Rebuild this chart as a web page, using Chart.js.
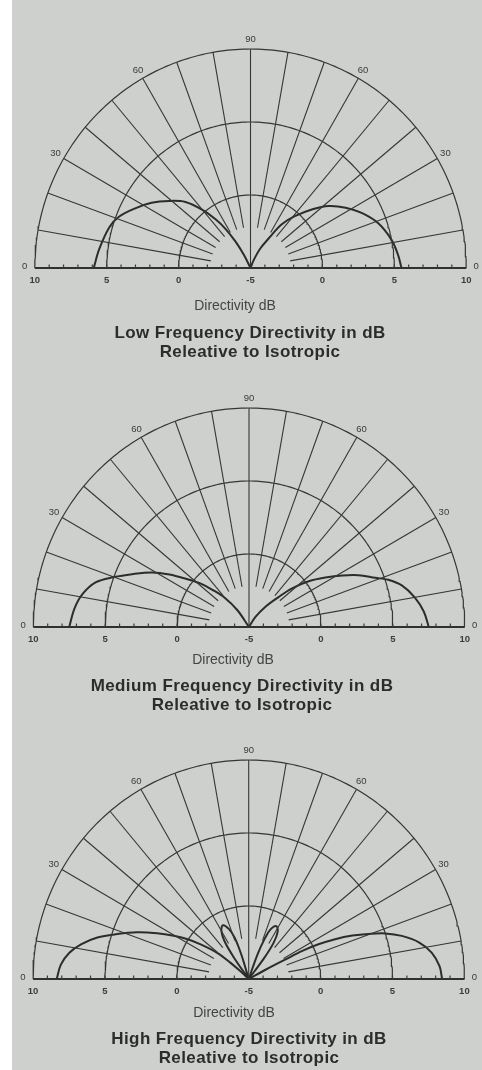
<!DOCTYPE html>
<html><head><meta charset="utf-8">
<script src="https://cdn.jsdelivr.net/npm/chart.js@4.4.1/dist/chart.umd.min.js"></script>
<style>
html,body{margin:0;padding:0;}
body{width:482px;height:1070px;background:#cdd0cd;position:relative;overflow:hidden;font-family:"Liberation Sans",Arial,Helvetica,sans-serif;}
#strip{position:absolute;left:0;top:0;width:12px;height:1070px;background:#fff;}
canvas{position:absolute;left:0;}
.axt{position:absolute;width:482px;text-align:center;color:#444;font-size:14px;line-height:16px;}
.ttl{position:absolute;width:482px;text-align:center;color:#2c2c2c;font-size:17px;font-weight:bold;line-height:19px;letter-spacing:0.4px;}
</style></head>
<body>
<div id="strip"></div>
<canvas id="c1" width="482" height="300" style="top:0px"></canvas>
<canvas id="c2" width="482" height="300" style="top:358.7px"></canvas>
<canvas id="c3" width="482" height="300" style="top:711.3px"></canvas>
<div class="axt" style="top:297px;left:-6px">Directivity dB</div>
<div class="ttl" style="top:322.5px;left:9px">Low Frequency Directivity in dB<br>Releative to Isotropic</div>
<div class="axt" style="top:651px;left:-8px">Directivity dB</div>
<div class="ttl" style="top:675.5px;left:1px">Medium Frequency Directivity in dB<br>Releative to Isotropic</div>
<div class="axt" style="top:1004px;left:-7px">Directivity dB</div>
<div class="ttl" style="top:1028.5px;left:8px">High Frequency Directivity in dB<br>Releative to Isotropic</div>
<script>
// ---- grid / label data ----
const ringDb = [0, 5, 10];
const spokeAngles = [10, 20, 30, 40, 50, 60, 70, 80, 90, 100, 110, 120, 130, 140, 150, 160, 170];
const spokeInnerDb = -2.2;
const angleLabelAngles = [180, 150, 120, 90, 60, 30, 0];
const angleLabelTexts = ['0', '30', '60', '90', '60', '30', '0'];
const dbTickSides = [-1, -1, -1, 0, 1, 1, 1];
const dbTickValues = [10, 5, 0, -5, 0, 5, 10];
const dbMin = -5;

// ---- Low frequency (angles in degrees from the baseline on each side) ----
const lowLeftAngles = [0, 7, 16, 21, 27, 33, 39, 45, 50, 54, 57, 60, 63, 66];
const lowLeftDb = [5.9, 5.6, 5.2, 4.8, 4.0, 3.2, 2.3, 1.4, 0.2, -0.9, -1.8, -2.9, -4.0, -5];
const lowRightAngles = [0, 5, 11, 19, 26, 32, 38, 43, 49, 54, 58, 63, 67.5, 70];
const lowRightDb = [5.5, 5.3, 5.0, 4.4, 3.6, 2.8, 1.9, 0.9, -0.3, -1.3, -2.6, -3.5, -4.4, -5];

// ---- Medium frequency ----
const medLeftAngles = [0, 6, 11, 16, 20, 24, 29, 33, 37, 41, 45, 50, 55, 58];
const medLeftDb = [7.5, 7.2, 6.8, 6.1, 5.0, 3.9, 2.7, 1.6, 0.5, -0.4, -1.4, -2.4, -3.6, -5];
const medRightAngles = [0, 5, 10, 15, 18.5, 21, 25, 28.5, 32.5, 37, 41.5, 45, 50.5, 57, 60];
const medRightDb = [7.5, 7.2, 6.7, 6.0, 5.2, 4.4, 3.4, 2.4, 1.3, 0.2, -1.0, -2.1, -3.2, -4.2, -5];

// ---- High frequency ----
const highLeftAngles = [0, 4.3, 8.2, 11.5, 15.1, 18.6, 22.4, 26.2, 29.6, 32.5, 35.4, 39.4, 41.2, 42.5, 44];
const highLeftDb = [8.35, 8.1, 7.6, 6.9, 5.9, 4.65, 3.4, 2.1, 1.0, 0.1, -0.9, -2.2, -3.3, -4.2, -5];
const highLeftSideAngles = [53, 55, 57, 60, 64, 68, 71, 73, 75];
const highLeftSideDb = [-5, -3.2, -1.9, -1.2, -0.9, -1.3, -2.0, -3.3, -5];
const highRightAngles = [0, 3.8, 8.1, 12, 15.5, 18.2, 20.3, 22.4, 24.4, 26.1, 27.3, 27.7, 28.5, 30];
const highRightDb = [8.45, 8.3, 7.85, 7.1, 6.05, 5.0, 3.9, 2.8, 1.6, 0.4, -0.8, -2.1, -3.6, -5];
const highRightSideAngles = [51, 53, 55, 58, 62, 66, 68, 70, 72];
const highRightSideDb = [-5, -3.3, -2.0, -1.2, -0.9, -1.3, -2.0, -3.2, -5];

const LINE = '#353735';

function toXY(thetaDeg, db) {
  const r = Math.max(0, db - dbMin);
  const t = thetaDeg * Math.PI / 180;
  return {x: r * Math.cos(t), y: r * Math.sin(t)};
}

function gridDatasets() {
  const ds = [];
  ringDb.forEach(db => {
    const pts = [];
    for (let a = 0; a <= 180; a += 1) pts.push(toXY(a, db));
    ds.push({data: pts, borderColor: LINE, borderWidth: 1.2, tension: 0});
  });
  spokeAngles.forEach(a => {
    const inner = a === 90 ? dbMin : spokeInnerDb;
    ds.push({data: [toXY(a, inner), toXY(a, ringDb[ringDb.length - 1])], borderColor: LINE, borderWidth: 1.1, tension: 0});
  });
  ds.push({data: [toXY(180, 10), toXY(0, 10)], borderColor: '#2f312f', borderWidth: 1.8, tension: 0});
  return ds;
}

function lobe(angles, dbs, side) {
  return {
    data: angles.map((a, i) => toXY(side < 0 ? 180 - a : a, dbs[i])),
    borderColor: '#2b2d2b', borderWidth: 2, tension: 0.35
  };
}

const polarLabels = {
  id: 'polarLabels',
  afterDatasetsDraw(chart) {
    const {ctx, scales: {x, y}} = chart;
    const y0 = y.getPixelForValue(0);
    ctx.save();
    // minor ticks every 1 dB along the baseline
    ctx.strokeStyle = '#3a3c3a';
    ctx.lineWidth = 1.2;
    for (let v = -14; v <= 14; v++) {
      if (v === 0) continue;
      const px = x.getPixelForValue(v);
      ctx.beginPath(); ctx.moveTo(px, y0); ctx.lineTo(px, y0 - 3.5); ctx.stroke();
    }
    ctx.fillStyle = '#3a3a3a';
    ctx.font = '9.5px "Liberation Sans", Arial, sans-serif';
    ctx.textAlign = 'center';
    ctx.textBaseline = 'middle';
    angleLabelAngles.forEach((a, i) => {
      const edge = (a === 0 || a === 180);
      const r = edge ? 15.7 : 15.65;
      const t = a * Math.PI / 180;
      const px = x.getPixelForValue(r * Math.cos(t));
      const py = edge ? y0 - 2 : y.getPixelForValue(r * Math.sin(t));
      ctx.fillText(angleLabelTexts[i], px, py);
    });
    ctx.font = 'bold 9.5px "Liberation Sans", Arial, sans-serif';
    ctx.fillStyle = '#3c3c3c';
    dbTickValues.forEach((v, i) => {
      const pos = dbTickSides[i] * (v - dbMin);
      ctx.fillText(String(v), x.getPixelForValue(pos), y0 + 12);
    });
    ctx.restore();
  }
};

function makeChart(id, cx, lobes) {
  const R = 215.7;
  const datasets = gridDatasets().concat(lobes).map(d => Object.assign({
    showLine: true, pointRadius: 0, pointHoverRadius: 0, fill: false, clip: false
  }, d));
  new Chart(document.getElementById(id), {
    type: 'scatter',
    data: {datasets},
    options: {
      responsive: false, animation: false, devicePixelRatio: 1, events: [],
      layout: {padding: {left: cx - R, right: 482 - cx - R, top: 49, bottom: 32}},
      plugins: {legend: {display: false}, tooltip: {enabled: false}},
      scales: {
        x: {type: 'linear', min: -15, max: 15, display: false},
        y: {type: 'linear', min: 0, max: 15, display: false}
      }
    },
    plugins: [polarLabels]
  });
}

makeChart('c1', 250.5, [lobe(lowLeftAngles, lowLeftDb, -1), lobe(lowRightAngles, lowRightDb, 1)]);
makeChart('c2', 249, [lobe(medLeftAngles, medLeftDb, -1), lobe(medRightAngles, medRightDb, 1)]);
makeChart('c3', 248.7, [
  lobe(highLeftAngles, highLeftDb, -1), lobe(highLeftSideAngles, highLeftSideDb, -1),
  lobe(highRightAngles, highRightDb, 1), lobe(highRightSideAngles, highRightSideDb, 1)
]);
</script>
</body></html>
